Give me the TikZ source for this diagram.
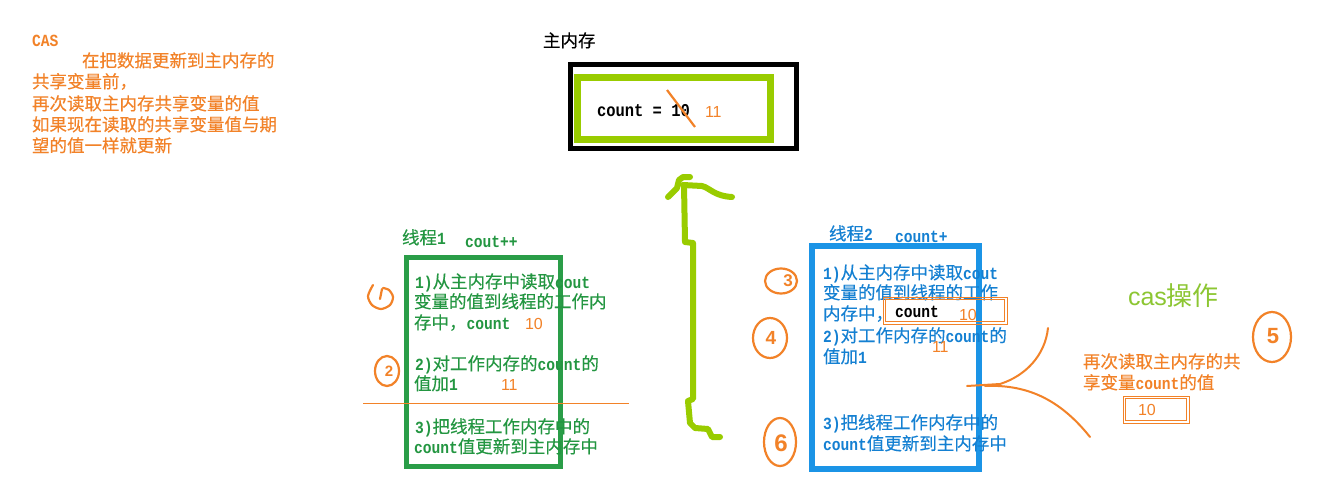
\documentclass[tikz,border=0pt]{standalone}
\usepackage{fontspec}
\setmainfont{Noto Sans CJK SC}[FakeBold=0.3]
\setmonofont{Liberation Mono}[FakeStretch=0.86]
\newfontfamily\arialf{Liberation Sans}
\definecolor{orng}{RGB}{242,130,40}
\definecolor{tgreen}{RGB}{35,150,65}
\definecolor{bgreen}{RGB}{42,157,72}
\definecolor{tblue}{RGB}{20,128,210}
\definecolor{bblue}{RGB}{27,148,230}
\definecolor{lime}{RGB}{153,204,0}
\definecolor{casg}{RGB}{140,198,50}
\newcommand\cjsize{\fontsize{17.5}{21}\selectfont}
\newcommand\mlat[1]{{\fontsize{17}{21}\selectfont\ttfamily\bfseries #1}}
\newcommand\anum[1]{{\fontsize{16}{21}\selectfont\arialf #1}}
\begin{document}
\begin{tikzpicture}[x=1pt,y=-1pt,
  txt/.style={anchor=base west,inner sep=0pt,outer sep=0pt,font=\cjsize},
  hand/.style={draw=orng,line width=2.2pt,line cap=round,line join=round},
  hdig/.style={inner sep=0pt,text=orng,font=\arialf\bfseries},
  obox/.style={draw=orng,line width=0.9pt},
  arrowline/.style={draw=lime,line width=6pt,line cap=round,line join=round}]
\fill[white] (0,0) rectangle (1335,503);
\useasboundingbox (0,0) rectangle (1335,503);

% left description
\node[txt,text=orng] (cas) at (32,47) {\mlat{CAS}};
\node[txt,text=orng] (d1) at (82,67) {在把数据更新到主内存的};
\node[txt,text=orng] (d2) at (32,88) {共享变量前，};
\node[txt,text=orng] (d3) at (32,110) {再次读取主内存共享变量的值};
\node[txt,text=orng] (d4) at (32,131) {如果现在读取的共享变量值与期};
\node[txt,text=orng] (d5) at (32,152) {望的值一样就更新};

% main memory
\node[txt] (mm) at (543,47) {主内存};
\draw[line width=5pt] (570,65) rectangle (796,148);
\draw[lime,line width=7pt] (577,77.5) rectangle (770,139.5);
\node[txt] (mmc) at (597,116) {{\fontsize{18}{21}\selectfont\ttfamily\bfseries count = 10}};
\node[txt,text=orng] (mm11) at (705,117) {\anum{11}};
\draw[orng,line width=2.2pt] (667,90) -- (695,127);

% thread 1
\node[txt,text=tgreen] (t1t) at (402,244) {线程\mlat{1}};
\node[txt,text=tgreen] (t1c) at (465,247) {\mlat{cout++}};
\draw[bgreen,line width=5pt] (406,257) rectangle (560,466);
\node[txt,text=tgreen] (t1a) at (415,288) {\mlat{1)}从主内存中读取\mlat{cout}};
\node[txt,text=tgreen] (t1b) at (414,308) {变量的值到线程的工作内};
\node[txt,text=tgreen] (t1d) at (414,329) {存中，\mlat{count}};
\node[txt,text=orng] (t1n1) at (525,329) {\anum{10}};
\node[txt,text=tgreen] (t1e) at (415,370) {\mlat{2)}对工作内存的\mlat{count}的};
\node[txt,text=tgreen] (t1f) at (414,390) {值加\mlat{1}};
\node[txt,text=orng] (t1n2) at (501,390) {\anum{11}};
\draw[orng,line width=1pt] (363,403) -- (629,403);
\node[txt,text=tgreen] (t1g) at (415,433) {\mlat{3)}把线程工作内存中的};
\node[txt,text=tgreen] (t1h) at (414,453) {\mlat{count}值更新到主内存中};

% thread 2
\node[txt,text=tblue] (t2t) at (829,240) {线程\mlat{2}};
\node[txt,text=tblue] (t2c) at (895,242) {\mlat{count+}};
\draw[bblue,line width=6pt] (812,246) rectangle (979,469);
\node[txt,text=tblue] (t2a) at (823,279) {\mlat{1)}从主内存中读取\mlat{cout}};
\node[txt,text=tblue] (t2b) at (823,299) {变量的值到线程的工作};
\node[txt,text=tblue] (t2d) at (823,320) {内存中，};
\node[txt,text=tblue] (t2e) at (823,342) {\mlat{2)}对工作内存的\mlat{count}的};
\node[txt,text=tblue] (t2f) at (823,363) {值加\mlat{1}};
\node[txt,text=tblue] (t2g) at (823,429) {\mlat{3)}把线程工作内存中的};
\node[txt,text=tblue] (t2h) at (823,450) {\mlat{count}值更新到主内存中};
\draw[obox] (883,297) rectangle (1007,324);
\draw[obox] (885.5,299.5) rectangle (1004.5,321.5);
\node[txt] (t2cnt) at (895,317) {\mlat{count}};
\node[txt,text=orng] (t2n1) at (959,320) {\anum{10}};
\node[txt,text=orng] (t2n2) at (932,352) {\anum{11}};

% cas operation
\node[txt,text=casg] (casop) at (1128,305) {{\fontsize{25}{30}\selectfont\arialf cas}{\fontsize{26}{30}\selectfont\addfontfeature{FakeBold=0} 操作}};
\node[txt,text=orng] (r1) at (1083,368) {再次读取主内存的共};
\node[txt,text=orng] (r2) at (1083,389) {享变量\mlat{count}的值};
\draw[obox] (1123,396) rectangle (1189,423);
\draw[obox] (1125.5,398.5) rectangle (1186.5,420.5);
\node[txt,text=orng] (r10) at (1138,415) {\anum{10}};

% orange branching strokes
\draw[hand,line width=2pt] (967,386) -- (1000,384) .. controls (1025,376) and (1045,356) .. (1048,328);
\draw[hand,line width=2pt] (985,386) .. controls (1030,384) and (1062,402) .. (1090,437);

% circled numbers
\draw[hand] plot[smooth] coordinates {(373,285) (368,296) (372,305) (381,309) (390,305) (393,297) (389,290) (383,288)};
\draw[hand] (382,289) -- (380,299);
\draw[hand] (387,371) ellipse[x radius=12,y radius=15];
\node[hdig,font=\arialf\bfseries\fontsize{15}{15}\selectfont] (c2) at (389,371) {2};
\draw[hand] (781,281) ellipse[x radius=16,y radius=12.5];
\node[hdig,font=\arialf\bfseries\fontsize{17}{17}\selectfont] (c3) at (788,281) {3};
\draw[hand] (770,338) ellipse[x radius=17,y radius=20];
\node[hdig,font=\arialf\bfseries\fontsize{19}{19}\selectfont] (c4) at (771,338) {4};
\draw[hand] (780,442) ellipse[x radius=16,y radius=24];
\node[hdig,font=\arialf\bfseries\fontsize{24}{24}\selectfont] (c6) at (781,443) {6};
\draw[hand] (1272,337) ellipse[x radius=19,y radius=25];
\node[hdig,font=\arialf\bfseries\fontsize{22}{22}\selectfont] (c5) at (1273,336) {5};

% green hand-drawn arrow
\draw[arrowline] (720,437) -- (712,437) -- (708,429) -- (695,428) -- (690,423) -- (688,401) -- (693,399) -- (693,243) -- (685,242) -- (684,185);
\draw[arrowline] (668,197) -- (677,188) -- (679,180) -- (683,177) -- (690,177);
\draw[arrowline] (683,185) -- (702,186) .. controls (710,188) and (714,196) .. (732,197);
\end{tikzpicture}
\end{document}
